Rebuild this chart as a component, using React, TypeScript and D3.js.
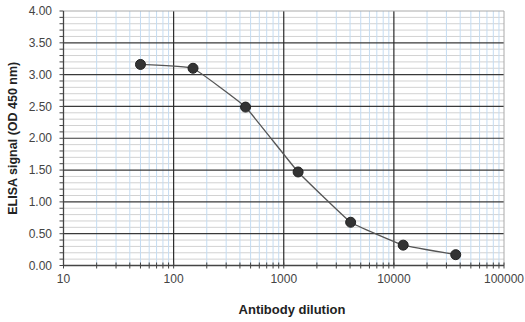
import React from "react";
import * as d3 from "d3";

const dilutions = [50, 150, 450, 1350, 4050, 12150, 36450];
const signals = [3.16, 3.1, 2.49, 1.47, 0.68, 0.32, 0.17];
const xTicks = [10, 100, 1000, 10000, 100000];
const yTicks = [0, 0.5, 1, 1.5, 2, 2.5, 3, 3.5, 4];
const xTitle = "Antibody dilution";
const yTitle = "ELISA signal (OD 450 nm)";

const W = 525, H = 322;
const left = 63.5, right = 504, top = 11, bottom = 265.5;

export default function App() {
  const x = d3.scaleLog().domain([10, 100000]).range([left, right]);
  const y = d3.scaleLinear().domain([0, 4]).range([bottom, top]);

  const minorX: number[] = [];
  for (let d = 10; d < 100000; d *= 10) for (let k = 2; k <= 9; k++) minorX.push(d * k);
  const minorY: number[] = d3.range(0, 41).map((i) => i / 10).filter((v) => Math.abs(v * 2 - Math.round(v * 2)) > 1e-6);

  const pts = dilutions.map((d, i) => [x(d), y(signals[i])] as [number, number]);
  const line = d3.line().curve(d3.curveCardinal.tension(0.75))(pts) || "";

  const font = "Arial, 'Liberation Sans', sans-serif";
  return (
    <svg width={W} height={H} style={{ position: "absolute", left: 0, top: 0, background: "#fff" }} fontFamily={font}>
      <rect x={0} y={0} width={W} height={H} fill="#fff" />
      {minorY.map((v) => (
        <line key={"my" + v} x1={left} x2={right} y1={y(v)} y2={y(v)} stroke="#d2d2d2" strokeWidth={1} />
      ))}
      {minorX.map((v) => (
        <line key={"mx" + v} x1={x(v)} x2={x(v)} y1={top} y2={bottom} stroke="#c4dcf2" strokeWidth={1} />
      ))}
      {yTicks.slice(1, -1).map((v) => (
        <line key={"My" + v} x1={left} x2={right} y1={y(v)} y2={y(v)} stroke="#3a3a3a" strokeWidth={1.2} />
      ))}
      {xTicks.slice(1, -1).map((v) => (
        <line key={"Mx" + v} x1={x(v)} x2={x(v)} y1={top} y2={bottom} stroke="#2a2a2a" strokeWidth={1.2} />
      ))}
      <line x1={left} x2={right} y1={top} y2={top} stroke="#aaa" />
      <line x1={right} x2={right} y1={top} y2={bottom} stroke="#aaa" />
      <line x1={left} x2={left} y1={top} y2={bottom} stroke="#444" strokeWidth={1.3} />
      <line x1={left} x2={right} y1={bottom} y2={bottom} stroke="#444" strokeWidth={1.3} />
      {d3.range(0, 41).map((i) => (
        <line key={"yt" + i} x1={left - 4} x2={left} y1={y(i / 10)} y2={y(i / 10)} stroke="#444" />
      ))}
      {minorX.concat(xTicks).map((v) => (
        <line key={"xt" + v} x1={x(v)} x2={x(v)} y1={bottom - 3} y2={bottom + 3} stroke="#444" />
      ))}
      {yTicks.map((v) => (
        <text key={"yl" + v} x={52} y={y(v)} dy="0.35em" textAnchor="end" fontSize={12} fill="#444">
          {v.toFixed(2)}
        </text>
      ))}
      {xTicks.map((v) => (
        <text key={"xl" + v} x={x(v)} y={bottom + 17} textAnchor="middle" fontSize={12} fill="#444">
          {v}
        </text>
      ))}
      <path d={line} fill="none" stroke="#555" strokeWidth={1.3} />
      {pts.map((p, i) => (
        <circle key={"c" + i} cx={p[0]} cy={p[1]} r={5} fill="#333" stroke="#222" />
      ))}
      <text x={292} y={314} textAnchor="middle" fontSize={13} fontWeight="bold" fill="#222">
        {xTitle}
      </text>
      <text transform={`translate(17,${(top + bottom) / 2}) rotate(-90)`} textAnchor="middle" fontSize={12.5} fontWeight="bold" fill="#222">
        {yTitle}
      </text>
    </svg>
  );
}
